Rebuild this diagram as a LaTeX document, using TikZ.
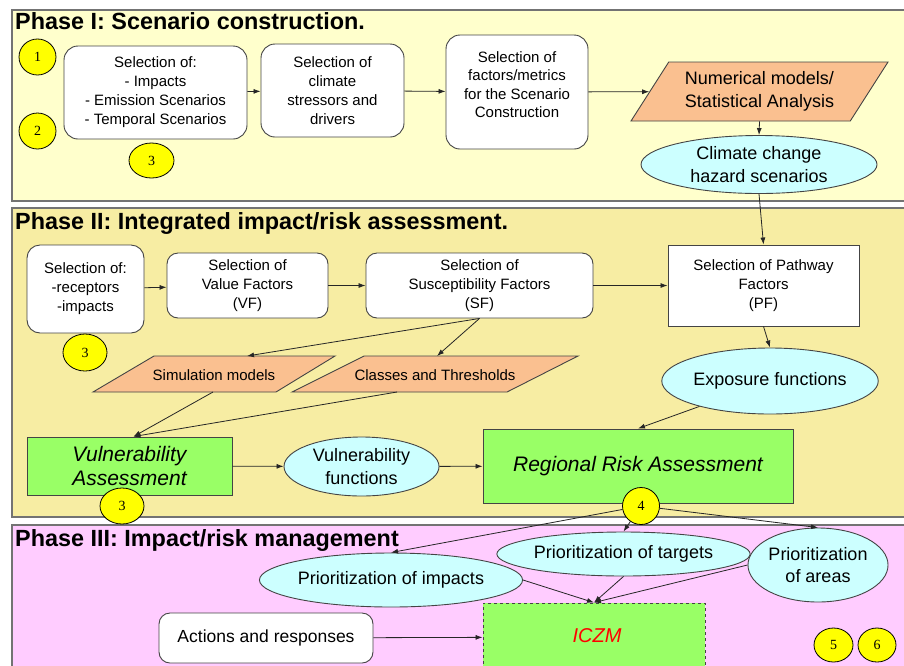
\documentclass[tikz,border=0pt]{standalone}
\usepackage{fontspec}
\setmainfont{Liberation Sans}
\newfontfamily\numfont{Liberation Serif}
\usetikzlibrary{shapes.geometric,arrows.meta,calc}

\definecolor{pone}{HTML}{FFFFCC}
\definecolor{ptwo}{HTML}{F7EDA3}
\definecolor{pthree}{HTML}{FFCCFF}
\definecolor{cyanL}{HTML}{CCFFFF}
\definecolor{peach}{HTML}{FAC090}
\definecolor{grn}{HTML}{99FF66}
\definecolor{ylw}{HTML}{FFFF00}
\definecolor{edge}{HTML}{444444}

\begin{document}
\begin{tikzpicture}[x=1pt,y=-1pt,
  panel/.style={draw=black!55, line width=1.3pt},
  title/.style={anchor=base west, inner sep=0pt, font=\bfseries\fontsize{23.4}{26}\selectfont},
  rbox/.style={draw=edge, line width=0.9pt, fill=white, rounded corners=14pt,
    align=center, inner sep=0pt, font=\fontsize{15}{19}\selectfont},
  sbox/.style={rbox, rounded corners=0pt},
  gbox/.style={draw=edge, line width=0.9pt, fill=grn, align=center, inner sep=0pt,
    font=\itshape\fontsize{21}{24}\selectfont},
  oval/.style={ellipse, draw=edge, line width=0.9pt, fill=cyanL, align=center,
    inner sep=0pt, font=\fontsize{18}{22.5}\selectfont},
  para/.style={trapezium, trapezium stretches body, draw=edge, line width=0.9pt,
    fill=peach, inner sep=0pt, align=center, font=\fontsize{15}{19}\selectfont},
  parapath/.style={draw=edge, line width=0.9pt, fill=peach},
  paratext/.style={inner sep=0pt, align=center, font=\fontsize{15}{19}\selectfont},
  numb/.style={ellipse, draw=black, line width=0.8pt, fill=ylw, inner sep=0pt,
    font=\numfont\fontsize{14}{14}\selectfont},
  arr/.style={-{Latex[length=7pt,width=5pt]}, line width=0.8pt, draw=black!85},
]
\useasboundingbox (0,0) rectangle (904,665);
\clip (0,0) rectangle (904,665);
\fill[white] (0,0) rectangle (904,665);

% ---------- phase panels ----------
\draw[panel, fill=pone]   (12,10)  rectangle (912,201);
\draw[panel, fill=ptwo]   (12,208) rectangle (912,517);
\draw[panel, fill=pthree] (12,525) rectangle (912,680);

\node[title] (t1) at (15,29)  {Phase I: Scenario construction.};
\node[title] (t2) at (15,229) {Phase II: Integrated impact/risk assessment.};
\node[title] (t3) at (15,546) {Phase III: Impact/risk management};

% ---------- Phase I ----------
\node[numb, minimum width=37pt, minimum height=36pt] (n1) at (37.5,57) {1};
\node[numb, minimum width=37pt, minimum height=36pt] (n2) at (37.5,131) {2};
\node[numb, minimum width=45pt, minimum height=35pt] (n3a) at (151.5,160.5) {3};

\node[rbox, minimum width=183pt, minimum height=93pt] (selA) at (155.5,92.5)
  {Selection of:\\- Impacts\\- Emission Scenarios\\- Temporal Scenarios};
\node[rbox, minimum width=143pt, minimum height=93pt] (selB) at (332.5,90.5)
  {Selection of\\climate\\stressors and\\drivers};
\node[rbox, minimum width=142pt, minimum height=114pt] (selC) at (517,92) {};
\node[align=center, inner sep=0pt, font=\fontsize{15}{18.5}\selectfont] (selCt) at (517,84.5)
  {Selection of\\factors/metrics\\for the Scenario\\Construction};

\node[para, trapezium left angle=46.5, trapezium right angle=133.5,
  minimum width=257pt, minimum height=59pt, font=\fontsize{18}{23}\selectfont] (num) at (759.5,91.5)
  {Numerical models/\\Statistical Analysis};
\node[oval, minimum width=236pt, minimum height=58pt] (cc) at (759,164.5)
  {Climate change\\hazard scenarios};

\draw[arr] (selA) -- (selB);
\draw[arr] (selB) -- (selC);
\draw[arr] (selC) -- (num);
\draw[arr] (num.south) -- (cc.north);

% ---------- Phase II ----------
\node[rbox, rounded corners=13pt, minimum width=117pt, minimum height=88pt] (selD) at (85.5,289)
  {Selection of:\\-receptors\\-impacts};
\node[numb, minimum width=44pt, minimum height=37pt] (n3b) at (85,352.5) {3};
\node[rbox, rounded corners=11pt, minimum width=161pt, minimum height=65pt] (selE) at (247.5,285.5)
  {Selection of\\Value Factors\\(VF)};
\node[rbox, rounded corners=11pt, minimum width=227pt, minimum height=65pt] (selF) at (479.5,285.5)
  {Selection of\\Susceptibility Factors\\(SF)};
\node[sbox, minimum width=191pt, minimum height=81pt] (selG) at (763.5,285.5)
  {Selection of Pathway\\Factors\\(PF)};

% slanted data boxes drawn as outlines, with their entry/exit points
\path[parapath] (93,392) -- (154,356) -- (335,356) -- (276,392) -- cycle;
\node[paratext] (sim) at (214,375) {Simulation models};
\coordinate (simIn) at (247,356);
\coordinate (simOut) at (213,392);
\path[parapath] (292,392) -- (364,356) -- (578,356) -- (507,392) -- cycle;
\node[paratext] (cls) at (435,375) {Classes and Thresholds};
\coordinate (clsIn) at (437,356);
\coordinate (clsOut) at (397,392);

\node[oval, minimum width=176pt, minimum height=66pt] (ef) at (770,381) {Exposure functions};

\node[gbox, minimum width=205pt, minimum height=58pt] (va) at (129.5,466)
  {Vulnerability\\Assessment};
\node[oval, minimum width=155pt, minimum height=59pt] (vf) at (361.5,466.5)
  {Vulnerability\\functions};
\node[gbox, minimum width=310pt, minimum height=74pt] (rra) at (638,466)
  {Regional Risk Assessment};
\node[numb, minimum width=44pt, minimum height=36pt] (n3c) at (122,506) {3};
\node[numb, minimum width=37pt, minimum height=37pt] (n4) at (641,506) {4};

\draw[arr] (cc.south) -- (selG.north);
\draw[arr] (selD) -- (selE);
\draw[arr] (selE) -- (selF);
\draw[arr] (selF) -- (selG);
\draw[arr] (selG.south) -- (ef.north);
\draw[arr] (selF.south) -- (simIn);
\draw[arr] (selF.south) -- (clsIn);
\draw[arr] (simOut) -- ($(va.north)+(4,0)$);
\draw[arr] (clsOut) -- ($(va.north)+(4,0)$);
\draw[arr] (va) -- (vf);
\draw[arr] (vf) -- (rra);
\draw[arr] (ef) -- (rra.north);

% ---------- Phase III ----------
\node[oval, minimum width=228pt, minimum height=54pt] (pimp) at (391,580) {Prioritization of impacts};
\node[oval, minimum width=237pt, minimum height=44pt] (ptar) at (623.5,554) {Prioritization of targets};
\node[oval, minimum width=140pt, minimum height=74pt] (parea) at (818,565) {Prioritization\\of areas};

\node[rbox, rounded corners=11pt, minimum width=214pt, minimum height=50pt,
  font=\fontsize{17.5}{21}\selectfont] (act) at (266,638) {Actions and responses};
\node[draw=edge, dashed, line width=0.9pt, fill=grn, minimum width=222pt, minimum height=68pt,
  inner sep=0pt] (iczm) at (594,637) {};
\node[text=red, inner sep=0pt, font=\itshape\fontsize{20}{24}\selectfont] (iczmt) at (597,636) {ICZM};

\node[numb, minimum width=39pt, minimum height=34pt] (n5) at (833.5,645) {5};
\node[numb, minimum width=38pt, minimum height=34pt] (n6) at (877,645) {6};

\draw[arr] (n4) -- (pimp.north);
\draw[arr] (n4) -- (ptar.north);
\draw[arr] (n4) -- (parea.north);
\draw[arr] (pimp.east) -- (iczm.north);
\draw[arr] (ptar.south) -- (iczm.north);
\draw[arr] (parea.west) -- (iczm.north);
\draw[arr] (act) -- (iczm);
\end{tikzpicture}
\end{document}
